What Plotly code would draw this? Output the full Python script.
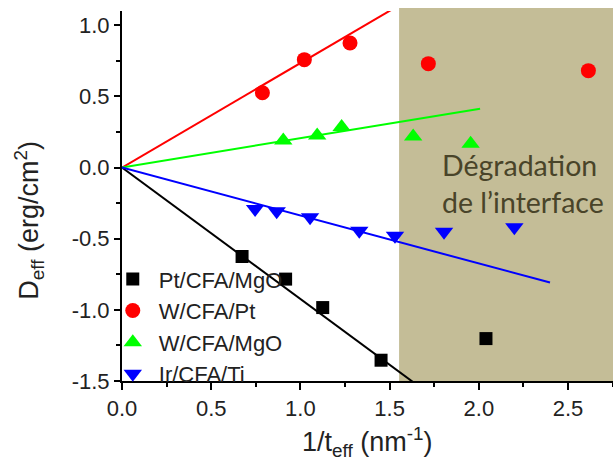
import numpy as np
import plotly.graph_objects as go

# ---- data ----
pt_x = [0.673, 0.917, 1.125, 1.452, 2.04]
pt_y = [-0.625, -0.784, -0.984, -1.354, -1.202]

wpt_x = [0.787, 1.022, 1.278, 1.717, 2.614]
wpt_y = [0.526, 0.758, 0.875, 0.730, 0.681]

wmgo_x = [0.904, 1.094, 1.231, 1.632, 1.954]
wmgo_y = [0.190, 0.225, 0.284, 0.218, 0.167]

ir_x = [0.746, 0.867, 1.054, 1.330, 1.530, 1.805, 2.199]
ir_y = [-0.291, -0.308, -0.350, -0.444, -0.479, -0.451, -0.420]

# linear fits through origin: slope and end of the drawn segment
fit_slopes = {"Pt/CFA/MgO": -0.924, "W/CFA/Pt": 0.734, "W/CFA/MgO": 0.206, "Ir/CFA/Ti": -0.337}
fit_ends = {"Pt/CFA/MgO": 1.70, "W/CFA/Pt": 1.60, "W/CFA/MgO": 2.007, "Ir/CFA/Ti": 2.399}

degradation_start = 1.553
x_ticks = [0, 0.5, 1.0, 1.5, 2.0, 2.5]
y_ticks = [-1.5, -1.0, -0.5, 0.0, 0.5, 1.0]

series = [
    ("Pt/CFA/MgO", pt_x, pt_y, "black", "square", 13),
    ("W/CFA/Pt", wpt_x, wpt_y, "#FF0000", "circle", 15),
    ("W/CFA/MgO", wmgo_x, wmgo_y, "#00FF00", "triangle-up", 16),
    ("Ir/CFA/Ti", ir_x, ir_y, "#0000FF", "triangle-down", 16),
]

FONT = "Liberation Sans, Arial, sans-serif"
fig = go.Figure()

for name, xs, ys, col, sym, sz in series:
    xe = np.array([0.0, fit_ends[name]])
    fig.add_trace(go.Scatter(x=xe, y=fit_slopes[name] * xe, mode="lines",
                             line=dict(color=col, width=2), showlegend=False,
                             hoverinfo="skip"))

for name, xs, ys, col, sym, sz in series:
    fig.add_trace(go.Scatter(x=xs, y=ys, mode="markers", name=name,
                             marker=dict(color=col, symbol=sym, size=sz, line=dict(width=0))))

fig.add_shape(type="rect", xref="x", yref="paper", x0=degradation_start, x1=2.8,
              y0=0, y1=1.008, fillcolor="#C4BD97", line=dict(width=0), layer="below")

fig.add_annotation(xref="x", yref="y", x=1.78, y=-0.115, xanchor="left", yanchor="middle",
                   text="Dégradation<br>de l’interface", showarrow=False, align="left",
                   font=dict(family="Lato, Carlito, sans-serif", size=28.5, color="#494429"))

fig.add_annotation(xref="paper", yref="paper", x=0.50, y=-0.107, xanchor="center",
                   yanchor="top", showarrow=False,
                   text="1/t<sub>eff</sub> (nm<sup>-1</sup>)",
                   font=dict(family=FONT, size=27, color="#222"))
fig.add_annotation(xref="paper", yref="paper", x=-0.19, y=0.435, xanchor="center",
                   yanchor="middle", showarrow=False, textangle=-90,
                   text="D<sub>eff</sub> (erg/cm<sup>2</sup>)",
                   font=dict(family=FONT, size=27, color="#222"))

fig.update_layout(
    width=613, height=461,
    margin=dict(l=122, r=0, t=11, b=80, autoexpand=False),
    plot_bgcolor="white", paper_bgcolor="white",
    font=dict(family=FONT, size=22, color="#222"),
    showlegend=True,
    legend=dict(x=-0.031, y=0.332, xanchor="left", yanchor="top",
                bgcolor="rgba(0,0,0,0)", font=dict(size=22, family=FONT, color="#222"),
                itemwidth=42, tracegroupgap=0),
    xaxis=dict(range=[0, 2.752], showgrid=False, zeroline=False,
               showline=True, linecolor="black", linewidth=2,
               ticks="outside", ticklen=7, tickwidth=1.5, tickcolor="black",
               tickvals=x_ticks, ticktext=[f"{v:.1f}" for v in x_ticks],
               minor=dict(ticks="outside", ticklen=4, dtick=0.25, tick0=0, tickcolor="black"),
               tickfont=dict(size=22)),
    xaxis2=dict(range=[0, 2.752], overlaying="x", side="top", showgrid=False,
                zeroline=False, showline=True, linecolor="black", linewidth=2,
                ticks="inside", ticklen=6, tickwidth=1.5, tickcolor="black",
                tickvals=x_ticks, showticklabels=False,
                minor=dict(ticks="inside", ticklen=4, dtick=0.25, tick0=0, tickcolor="black")),
    yaxis=dict(range=[-1.5, 1.1], showgrid=False, zeroline=False,
               showline=True, linecolor="black", linewidth=2,
               ticks="outside", ticklen=6, tickwidth=1.5, tickcolor="black",
               tickvals=y_ticks, ticktext=[f"{v:.1f}" for v in y_ticks],
               minor=dict(ticks="outside", ticklen=4, dtick=0.25, tick0=0, tickcolor="black"),
               tickfont=dict(size=22)),
)

fig.write_html("out.html", config={"displayModeBar": False},
               post_script="document.body.style.margin='0px';document.body.style.overflow='hidden';")
